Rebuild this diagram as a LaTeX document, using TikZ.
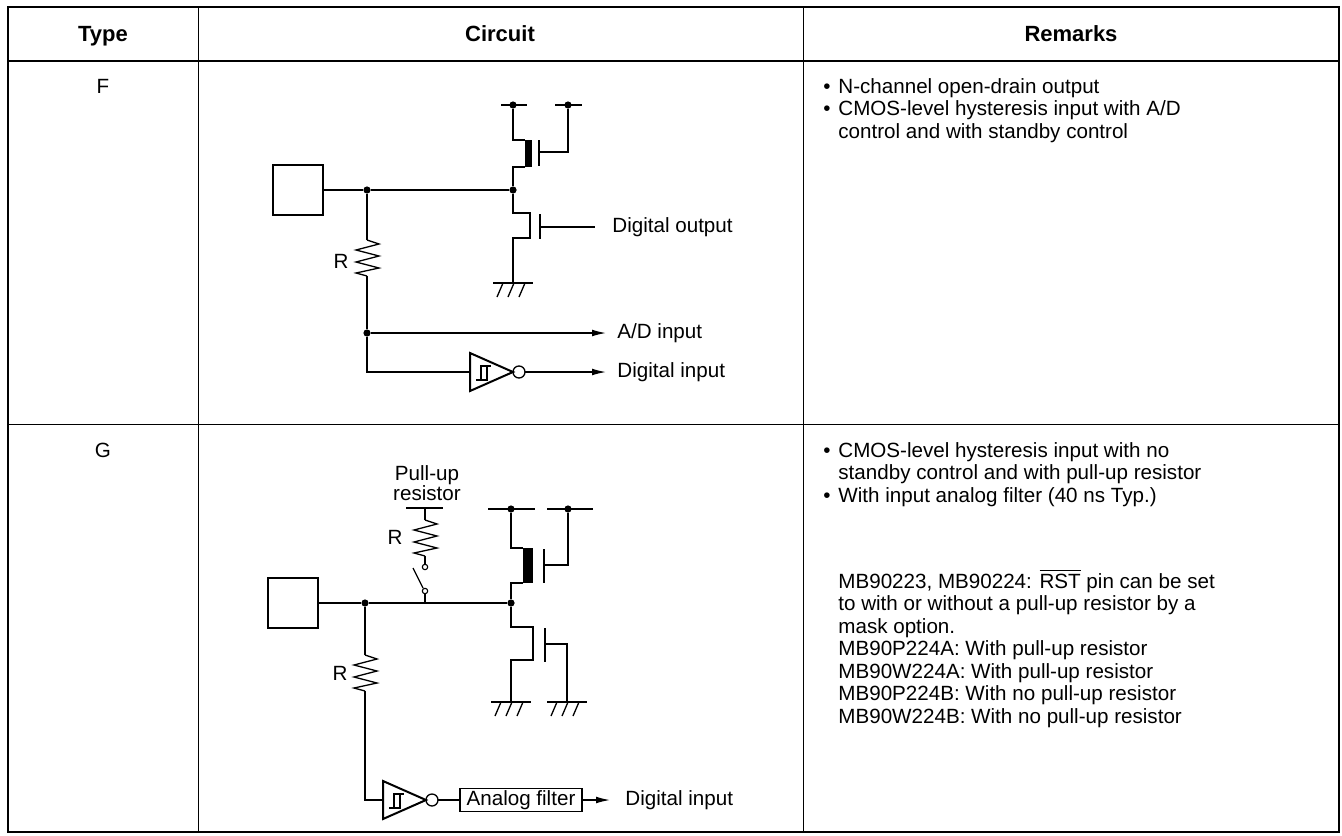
\documentclass[tikz,border=0pt]{standalone}
\usepackage{fontspec}
\setmainfont{Liberation Sans}
\usetikzlibrary{arrows.meta}
\newcommand{\rmkbul}{\makebox[7.5pt][l]{\textbullet}}
\newcommand{\rmkind}{\hspace*{7.5pt}}
\tikzset{
  resz/.pic={\draw[line width=0.65pt] (0,0) -- (12,4) -- (-11,10) -- (12,16) -- (-11,22) -- (12,28) -- (-11,33) -- (0,36);},
  gnd/.pic={\draw[line width=1pt] (-20,0) -- (20,0);
    \draw[line width=0.65pt] (-10,0) -- (-16,14) (1,0) -- (-5,14) (12,0) -- (6,14);},
  sinv/.pic={\draw[line width=1pt] (0,-19) -- (43,0) -- (0,19) -- cycle;
    \draw[line width=0.55pt] (6,8) -- (17,8) -- (17,-6) (11,8) -- (11,-6) -- (21,-6);
    \draw[line width=0.65pt] (49,0) circle[radius=3pt];
    \coordinate (-in) at (0,0); \coordinate (-out) at (55,0);}
}
\begin{document}
\begin{tikzpicture}[x=0.5pt,y=-0.5pt]
    \tikzstyle{wire}=[line width=0.65pt]
    \tikzstyle{junc}=[circle, fill=black, inner sep=0pt, minimum size=3.6pt]
    \tikzstyle{hole}=[circle, draw=black, fill=white, inner sep=0pt, minimum size=2.7pt, line width=0.55pt]
    \tikzstyle{pad}=[draw, line width=0.9pt, minimum width=25pt, minimum height=25pt, inner sep=0pt]
    \tikzstyle{lbl}=[inner sep=0pt, anchor=west, font=\fontsize{10.3}{10}\selectfont]
    \tikzstyle{rmk}=[inner sep=0pt, anchor=base west, font=\fontsize{10.3}{11.25}\selectfont]
    \tikzstyle{hd}=[inner sep=0pt, anchor=base, font=\fontsize{11}{12}\selectfont\bfseries]
    \tikzstyle{sig}=[wire, -{Latex[length=7pt,width=3.4pt]}]
    \useasboundingbox (0,0) rectangle (1342,835);
    % table
    \draw[line width=1.3pt] (8,7) rectangle (1339,832);
    \draw[line width=1.3pt] (8,61) -- (1339,61);
    \draw[line width=0.5pt] (8,424) -- (1339,424);
    \draw[line width=0.5pt] (198,7) -- (198,832) (803,7) -- (803,832);
    \node[hd] (hType) at (103,41) {Type};
    \node[hd] (hCirc) at (500,41) {Circuit};
    \node[hd] (hRem) at (1071,41) {Remarks};
    \node[rmk, anchor=base] (tF) at (103,93) {F};
    \node[rmk, anchor=base] (tG) at (103,457) {G};

    % type F
    \node[pad] (padF) at (298,190) {};
    \node[junc] (jF1) at (367,190) {};
    \node[junc] (jF2) at (513,190) {};
    \node[junc] (jF3) at (367,333) {};
    \node[junc] (vddF) at (513,105) {};
    \node[junc] (vbF) at (568,105) {};
    \draw[wire] (padF.east) -- (jF1) -- (jF2);
    \draw[wire] (501,105) -- (527,105) (555,105) -- (582,105);
    \draw[wire] (vddF) -- (513,140) -- (525,140);
    \fill (525,140) rectangle (532,167);
    \draw[wire] (525,167) -- (513,167) -- (jF2);
    \draw[line width=1pt] (539,140) -- (539,166);
    \draw[wire] (539,152) -| (vbF);
    \draw[wire] (jF2) -- (513,213) -- (530,213) -- (530,238) -- (513,238) -- (513,283);
    \draw[line width=1pt] (540,214) -- (540,239);
    \node[lbl] (doutF) at (612,227) {Digital output};
    \draw[wire] (540,227) -- ([xshift=-8.5pt]doutF.west);
    \pic at (513,283) {gnd};
    \draw[wire] (jF1) -- (367,240);
    \pic at (367,240) {resz};
    \node[lbl, anchor=east] (rF) at (349,261) {R};
    \draw[wire] (367,276) -- (jF3);
    \node[lbl] (adF) at (617,333) {A/D input};
    \draw[sig] (jF3) -- ([xshift=-5.5pt]adF.west);
    \pic (invF) at (470,372) {sinv};
    \draw[wire] (jF3) |- (invF-in);
    \node[lbl] (dinF) at (617,372) {Digital input};
    \draw[sig] (invF-out) -- ([xshift=-5.5pt]dinF.west);

    % type G
    \node[pad] (padG) at (293,603) {};
    \node[junc] (jG1) at (365,603) {};
    \node[junc] (jG2) at (511,603) {};
    \node[junc] (vddG) at (511,509) {};
    \node[junc] (vbG) at (568,509) {};
    \draw[wire] (padG.east) -- (jG1) -- (jG2);
    \node[lbl, anchor=center, align=center] (puG) at (427,483) {Pull-up\\resistor};
    \draw[line width=1.3pt] (406,508) -- (443,508);
    \draw[wire] (425,508) -- (425,520);
    \pic at (425,520) {resz};
    \node[lbl, anchor=east] (rG1) at (403,537) {R};
    \node[hole] (swT) at (425,567) {};
    \node[hole] (swB) at (425,591) {};
    \draw[wire] (425,556) -- (swT);
    \draw[wire] (swB) -- (425,603);
    \draw[wire] (413,568) -- (423,588);
    \draw[wire] (488,509) -- (535,509) (547,509) -- (593,509);
    \draw[wire] (vddG) -- (511,548) -- (523,548);
    \fill (523,548) rectangle (533,583);
    \draw[wire] (523,583) -- (511,583) -- (jG2);
    \draw[line width=1pt] (544,549) -- (544,583);
    \draw[wire] (544,565) -| (vbG);
    \draw[wire] (jG2) -- (511,627) -- (533,627) -- (533,660) -- (511,660) -- (511,702);
    \draw[line width=1pt] (545,628) -- (545,662);
    \draw[wire] (545,644) -| (567,702);
    \pic at (511,702) {gnd};
    \pic at (567,702) {gnd};
    \draw[wire] (jG1) -- (365,655);
    \pic at (365,655) {resz};
    \node[lbl, anchor=east] (rG2) at (348,673) {R};
    \pic (invG) at (383,800) {sinv};
    \draw[wire] (365,691) |- (invG-in);
    \node[draw, wire, inner sep=0pt, minimum width=61pt, minimum height=11.5pt, font=\fontsize{10.3}{11}\selectfont] (afG) at (521,800) {Analog filter};
    \draw[wire] (invG-out) -- (afG.west |- invG-out);
    \node[lbl] (dinG) at (625,800) {Digital input};
    \draw[sig] (afG.east |- invG-out) -- ([xshift=-7.5pt]dinG.west);

    % remarks
    \foreach \s [count=\i from 0] in {{\rmkbul N-channel open-drain output},
        {\rmkbul CMOS-level hysteresis input with A/D},
        {\rmkind control and with standby control}}
      \node[rmk] (rmF\i) at (823,93+22.5*\i) {\s};
    \foreach \s [count=\i from 0] in {{\rmkbul CMOS-level hysteresis input with no},
        {\rmkind standby control and with pull-up resistor},
        {\rmkbul With input analog filter (40 ns Typ.)}}
      \node[rmk] (rmG\i) at (823,457+22.5*\i) {\s};
    \foreach \s [count=\i from 0] in {{MB90223, MB90224: $\overline{\mbox{RST}}$ pin can be set},
        {to with or without a pull-up resistor by a},
        {mask option.},
        {MB90P224A: With pull-up resistor},
        {MB90W224A: With pull-up resistor},
        {MB90P224B: With no pull-up resistor},
        {MB90W224B: With no pull-up resistor}}
      \node[rmk] (rmH\i) at (838,588+22.5*\i) {\s};
\end{tikzpicture}
\end{document}
